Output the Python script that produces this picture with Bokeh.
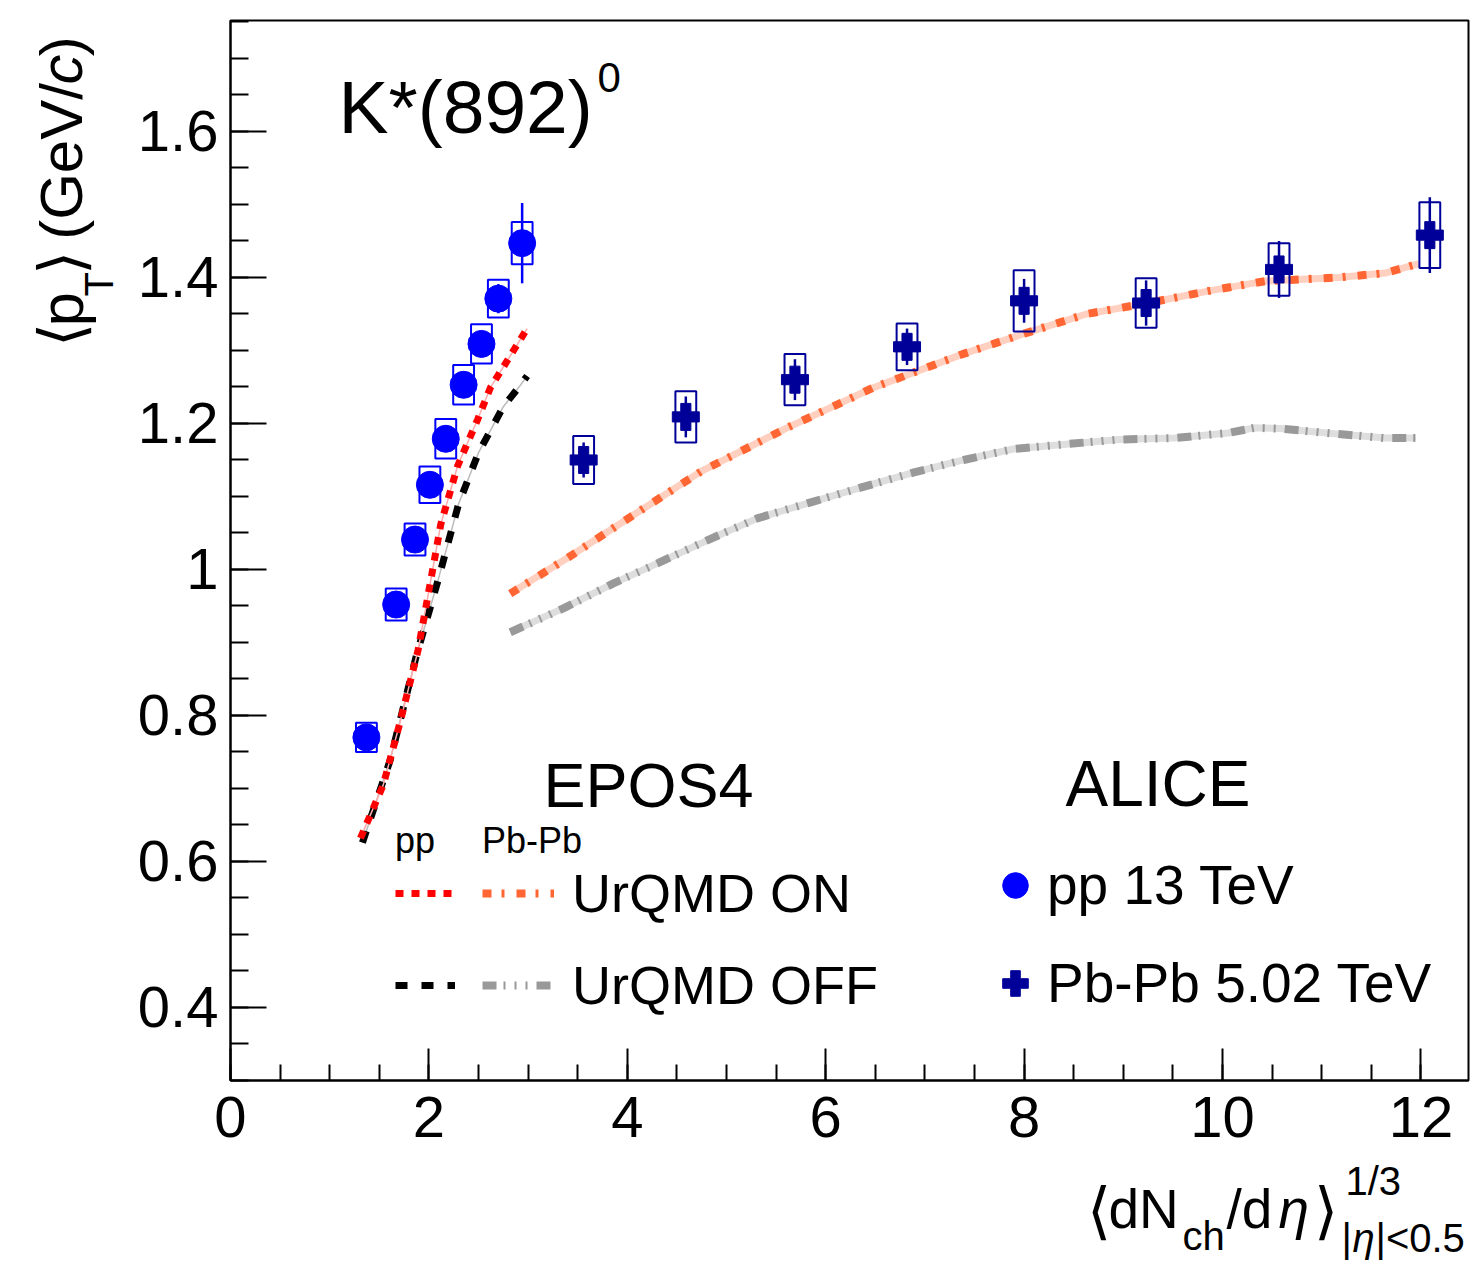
import math
import numpy as np
from bokeh.plotting import figure
from bokeh.layouts import column, row
from bokeh.models import (Range1d, SingleIntervalTicker, CustomJSTickFormatter,
                          Label, Legend, LegendItem)
from bokeh.embed import file_html
from bokeh.resources import INLINE

# ---------------- data ----------------
# ALICE pp 13 TeV
pp_x = [1.37, 1.67, 1.86, 2.01, 2.17, 2.35, 2.53, 2.70, 2.94]
pp_y = [0.770, 0.952, 1.041, 1.116, 1.179, 1.253, 1.309, 1.371, 1.447]
pp_stat = [0.010, 0.010, 0.010, 0.010, 0.012, 0.012, 0.015, 0.020, 0.055]
pp_sys = [0.020, 0.022, 0.022, 0.025, 0.027, 0.027, 0.027, 0.026, 0.029]

# ALICE Pb-Pb 5.02 TeV
pb_x = [3.56, 4.59, 5.69, 6.82, 8.00, 9.23, 10.57, 12.09]
pb_y = [1.150, 1.209, 1.260, 1.305, 1.368, 1.365, 1.411, 1.458]
pb_stat = [0.024, 0.028, 0.028, 0.025, 0.030, 0.031, 0.039, 0.052]
pb_sys = [0.033, 0.035, 0.035, 0.032, 0.042, 0.034, 0.036, 0.045]

# EPOS4 pp, UrQMD ON / OFF
epos_pp_on_x = [1.31, 1.54, 1.71, 1.89, 2.02, 2.12, 2.29, 2.49, 2.62, 2.79, 2.99]
epos_pp_on_y = [0.632, 0.705, 0.791, 0.889, 0.986, 1.062, 1.142, 1.205, 1.249, 1.286, 1.330]
epos_pp_off_x = [1.33, 1.61, 1.87, 2.09, 2.30, 2.50, 2.75, 2.92, 2.99]
epos_pp_off_y = [0.626, 0.739, 0.880, 0.984, 1.090, 1.160, 1.223, 1.252, 1.265]

# EPOS4 Pb-Pb, UrQMD ON / OFF
epos_pb_on_x = [2.82, 3.40, 3.93, 4.74, 5.61, 6.48, 7.38, 8.00, 8.63, 9.25, 9.88,
                10.43, 11.17, 11.64, 11.98]
epos_pb_on_y = [0.967, 1.016, 1.063, 1.134, 1.194, 1.249, 1.295, 1.323, 1.350, 1.365,
                1.382, 1.395, 1.400, 1.406, 1.419]
epos_pb_off_x = [2.82, 3.36, 3.86, 4.33, 4.84, 5.31, 5.85, 6.35, 6.89, 7.39, 7.89, 8.45,
                 8.96, 9.52, 10.06, 10.32, 10.58, 11.13, 11.64, 11.95]
epos_pb_off_y = [0.914, 0.947, 0.981, 1.010, 1.042, 1.070, 1.092, 1.112, 1.133, 1.150,
                 1.165, 1.172, 1.178, 1.180, 1.187, 1.194, 1.193, 1.186, 1.180, 1.180]

X_RANGE = (0.0, 12.48)
Y_RANGE = (0.3, 1.752)

# ---------------- style / layout ----------------
FONT = "Liberation Sans"
BOX_HALF_W = 0.105
C_PP = "#0000ff"
C_PB = "#000099"
C_ON_PP = "#ff0000"
C_ON_PB = "#ff6633"
C_OFF_PP = "#000000"
C_OFF_PB = "#999999"
BASE_SHIFT = 0.36          # measured offset of the rendered alphabetic baseline (em)

YT_W = 120                 # width of the strip holding the y title
MAIN_W, MAIN_H = 1350, 1160
XT_H = 102                 # height of the strip holding the x title
TOTAL_W = YT_W + MAIN_W

p = figure(width=MAIN_W, height=MAIN_H, output_backend="svg", toolbar_location=None,
           x_range=Range1d(*X_RANGE), y_range=Range1d(*Y_RANGE),
           min_border_left=110, min_border_right=2, min_border_top=20,
           min_border_bottom=80)
p.grid.visible = False
p.outline_line_color = "black"
p.outline_line_width = 2
p.outline_line_alpha = 1.0

xa = p.xaxis[0]
ya = p.yaxis[0]
xa.ticker = SingleIntervalTicker(interval=2, num_minor_ticks=4)
ya.ticker = SingleIntervalTicker(interval=0.2, num_minor_ticks=4)
ya.formatter = CustomJSTickFormatter(code="return String(Math.round(tick*10)/10);")
for ax in (xa, ya):
    ax.axis_line_width = 2
    ax.axis_line_color = "black"
    ax.major_tick_line_width = 2
    ax.minor_tick_line_width = 2
    ax.major_tick_line_color = "black"
    ax.minor_tick_line_color = "black"
    ax.major_tick_out = 0
    ax.minor_tick_out = 0
    ax.major_label_text_font = FONT
    ax.major_label_text_font_size = "58px"
    ax.major_label_text_color = "black"
xa.major_tick_in = 32
xa.minor_tick_in = 16
ya.major_tick_in = 36
ya.minor_tick_in = 18
xa.major_label_standoff = 16
ya.major_label_standoff = 12

# ---------------- EPOS4 curves ----------------
p.line(epos_pp_off_x, epos_pp_off_y, line_color="#bbbbbb", line_width=1.5)
r_pp_off = p.line(epos_pp_off_x, epos_pp_off_y, line_color=C_OFF_PP, line_width=7,
                  line_dash="12 14")
p.line(epos_pp_on_x, epos_pp_on_y, line_color="#ffaaaa", line_width=1.5)
r_pp_on = p.line(epos_pp_on_x, epos_pp_on_y, line_color=C_ON_PP, line_width=7,
                 line_dash="8 8")

p.line(epos_pb_off_x, epos_pb_off_y, line_color="#dedede", line_width=7)
r_pb_off = p.line(epos_pb_off_x, epos_pb_off_y, line_color=C_OFF_PB, line_width=8,
                  line_dash="14 7 2 9 2 9 2 9")
p.line(epos_pb_on_x, epos_pb_on_y, line_color="#ffd0c0", line_width=7)
r_pb_on = p.line(epos_pb_on_x, epos_pb_on_y, line_color=C_ON_PB, line_width=8,
                 line_dash="9 10 3 12")

# ---------------- ALICE data ----------------
ppx = np.array(pp_x); ppy = np.array(pp_y)
pbx = np.array(pb_x); pby = np.array(pb_y)

p.quad(left=ppx - BOX_HALF_W, right=ppx + BOX_HALF_W,
       bottom=ppy - np.array(pp_sys), top=ppy + np.array(pp_sys),
       fill_color=None, line_color=C_PP, line_width=2)
p.segment(x0=ppx, y0=ppy - np.array(pp_stat), x1=ppx, y1=ppy + np.array(pp_stat),
          line_color=C_PP, line_width=2.5)
r_pp_pts = p.scatter(ppx, ppy, marker="circle", size=27, fill_color=C_PP,
                     line_color=C_PP)

p.quad(left=pbx - BOX_HALF_W, right=pbx + BOX_HALF_W,
       bottom=pby - np.array(pb_sys), top=pby + np.array(pb_sys),
       fill_color=None, line_color=C_PB, line_width=2)
p.segment(x0=pbx, y0=pby - np.array(pb_stat), x1=pbx, y1=pby + np.array(pb_stat),
          line_color=C_PB, line_width=2.5)
r_pb_pts = p.scatter(pbx, pby, marker="plus", size=27, fill_color=C_PB,
                     line_color=C_PB)

# ---------------- text helpers ----------------
def X(px):
    return X_RANGE[0] + (px - 230) / 1238 * (X_RANGE[1] - X_RANGE[0])

def Y(py):
    return Y_RANGE[1] - (py - 20) / 1060 * (Y_RANGE[1] - Y_RANGE[0])

def make_label(x, y, s, size, italic, angle):
    return Label(x=x, y=y, text=s, text_font=FONT, text_font_size=f"{size}px",
                 text_font_style="italic" if italic else "normal", angle=angle,
                 text_align="left", text_baseline="alphabetic", text_color="black")

def txt(s, px, py, size, italic=False):
    """Text inside the main frame; (px, py) = wanted baseline start in page pixels."""
    p.add_layout(make_label(X(px), Y(py - BASE_SHIFT * size), s, size, italic, 0.0))

# title and headers
txt("K*(892)", 338, 133, 75)
txt("0", 597, 92, 42)
txt("EPOS4", 543, 807, 63)
txt("ALICE", 1065, 807, 64)

# ---- y title strip (page pixel coordinates, y downwards) ----
yt = figure(width=YT_W, height=MAIN_H, output_backend="svg", toolbar_location=None,
            x_range=Range1d(0, YT_W), y_range=Range1d(MAIN_H, 0),
            x_axis_type=None, y_axis_type=None, min_border=0)
yt.grid.visible = False
yt.outline_line_color = None

def ytxt(s, px, py, size, italic=False):
    yt.add_layout(make_label(px - BASE_SHIFT * size, py, s, size, italic, math.pi / 2))

ytxt("⟨", 83, 357, 62)
ytxt("p", 83, 335, 62)
ytxt("T", 113, 302, 40)
ytxt("⟩", 83, 279, 62)
ytxt("(GeV/", 83, 240, 60)
ytxt("c", 83, 70, 60, italic=True)
ytxt(")", 83, 39, 60)

# ---- x title strip ----
xt = figure(width=TOTAL_W, height=XT_H, output_backend="svg", toolbar_location=None,
            x_range=Range1d(0, TOTAL_W), y_range=Range1d(MAIN_H + XT_H, MAIN_H),
            x_axis_type=None, y_axis_type=None, min_border=0)
xt.grid.visible = False
xt.outline_line_color = None

def xtxt(s, px, py, size, italic=False):
    xt.add_layout(make_label(px, py - BASE_SHIFT * size, s, size, italic, 0.0))

xtxt("⟨", 1086, 1232, 62)
xtxt("dN", 1108, 1228, 55)
xtxt("ch", 1182, 1250, 40)
xtxt("/d", 1226, 1228, 55)
xtxt("η", 1278, 1228, 55, italic=True)
xtxt("⟩", 1313, 1232, 62)
xtxt("1/3", 1345, 1195, 40)
xtxt("|", 1341, 1252, 40)
xtxt("η", 1352, 1252, 40, italic=True)
xtxt("|<0.5", 1375, 1252, 40)

# ---------------- legends ----------------
def make_legend(items, loc, title=None, glyph_w=60, glyph_h=62, spacing=30,
                standoff=0, size="54px"):
    kw = {}
    if title is not None:
        kw = dict(title=title, title_text_font=FONT, title_text_font_size="36px",
                  title_text_font_style="normal", title_text_color="black",
                  title_standoff=0)
    leg = Legend(items=items, location=loc, glyph_width=glyph_w, glyph_height=glyph_h,
                 label_height=glyph_h, label_width=0, label_standoff=standoff,
                 spacing=spacing, padding=0, margin=0, border_line_alpha=0,
                 background_fill_alpha=0, label_text_font=FONT,
                 label_text_font_size=size, label_text_color="black", **kw)
    p.add_layout(leg)
    return leg

make_legend([LegendItem(label=" ", renderers=[r_pp_on]),
             LegendItem(label=" ", renderers=[r_pp_off])],
            (165, 64), title="pp", glyph_w=60)
make_legend([LegendItem(label="UrQMD ON", renderers=[r_pb_on]),
             LegendItem(label="UrQMD OFF", renderers=[r_pb_off])],
            (252, 64), title="Pb-Pb", glyph_w=72, standoff=18)
make_legend([LegendItem(label="pp 13 TeV", renderers=[r_pp_pts]),
             LegendItem(label="Pb-Pb 5.02 TeV", renderers=[r_pb_pts])],
            (753, 65), glyph_w=64, glyph_h=64, spacing=34, standoff=0, size="55px")

layout = column(row(yt, p, spacing=0), xt, spacing=0)
open("out.html", "w").write(file_html(layout, INLINE))
